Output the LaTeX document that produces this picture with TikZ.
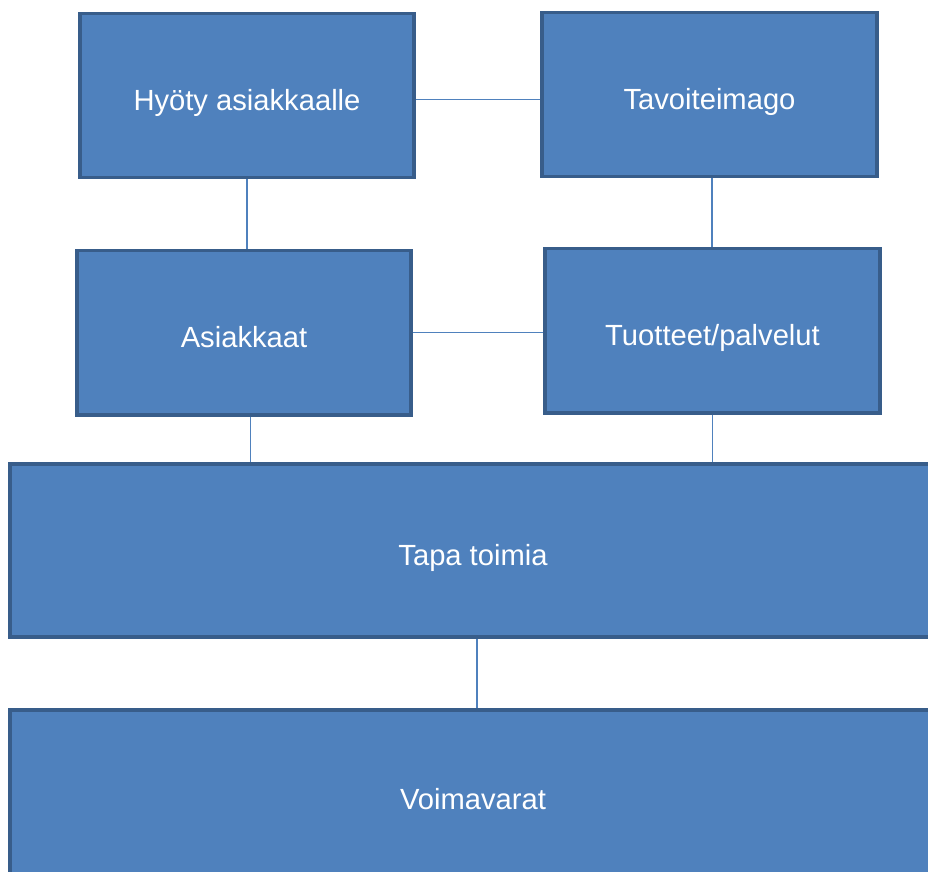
\documentclass[tikz,border=0pt]{standalone}
\usepackage{fontspec}
\setmainfont{Liberation Sans}
\usetikzlibrary{positioning}

\definecolor{boxblue}{HTML}{4F81BD}
\definecolor{boxedge}{HTML}{385D8A}
\tikzset{block/.style={fill=boxblue, draw=boxedge, line width=3.4pt, inner sep=0pt, text=white, text height=0.87cm, text depth=0pt, font=\fontsize{24.9}{30}\selectfont},
         link/.style={draw=boxblue, line width=1.3pt}}

\begin{document}
\begin{tikzpicture}[x=0.03cm, y=-0.03cm]
            \useasboundingbox (0,0) rectangle (928,871);
            \clip (0,0) rectangle (928,871);
            \node[block, minimum width=10cm, minimum height=4.92cm] (hyoty) at (247,95.5) {Hyöty asiakkaalle};
            \node[block, minimum width=10.05cm, minimum height=4.92cm] (tavoite) at (709.5,94.5) {Tavoiteimago};
            \node[block, minimum width=10cm, minimum height=4.92cm] (asiakkaat) at (244,332.5) {Asiakkaat};
            \node[block, minimum width=10.05cm, minimum height=4.92cm] (tuotteet) at (712.5,330.5) {Tuotteet/palvelut};
            \node[block, minimum width=27.8cm, minimum height=5.17cm] (tapa) at (473,550.5) {Tapa toimia};
            \node[block, minimum width=27.8cm, minimum height=5.1cm] (voima) at (473,795) {Voimavarat};
            \draw[link] ([yshift=-0.12cm]hyoty.east) -- ([yshift=-0.12cm]hyoty.east -| tavoite.west);
            \draw[link] (hyoty.south) -- (hyoty.south |- asiakkaat.north);
            \draw[link] ([xshift=0.07cm]tavoite.south) -- ([xshift=0.07cm]tavoite.south |- tuotteet.north);
            \draw[link] (asiakkaat.east) -- (asiakkaat.east -| tuotteet.west);
            \draw[link] ([xshift=0.2cm]asiakkaat.south) -- ([xshift=0.2cm]asiakkaat.south |- tapa.north);
            \draw[link] (tuotteet.south) -- (tuotteet.south |- tapa.north);
            \draw[link] ([xshift=0.12cm]tapa.south) -- ([xshift=0.12cm]tapa.south |- voima.north);
        \end{tikzpicture}
\end{document}
